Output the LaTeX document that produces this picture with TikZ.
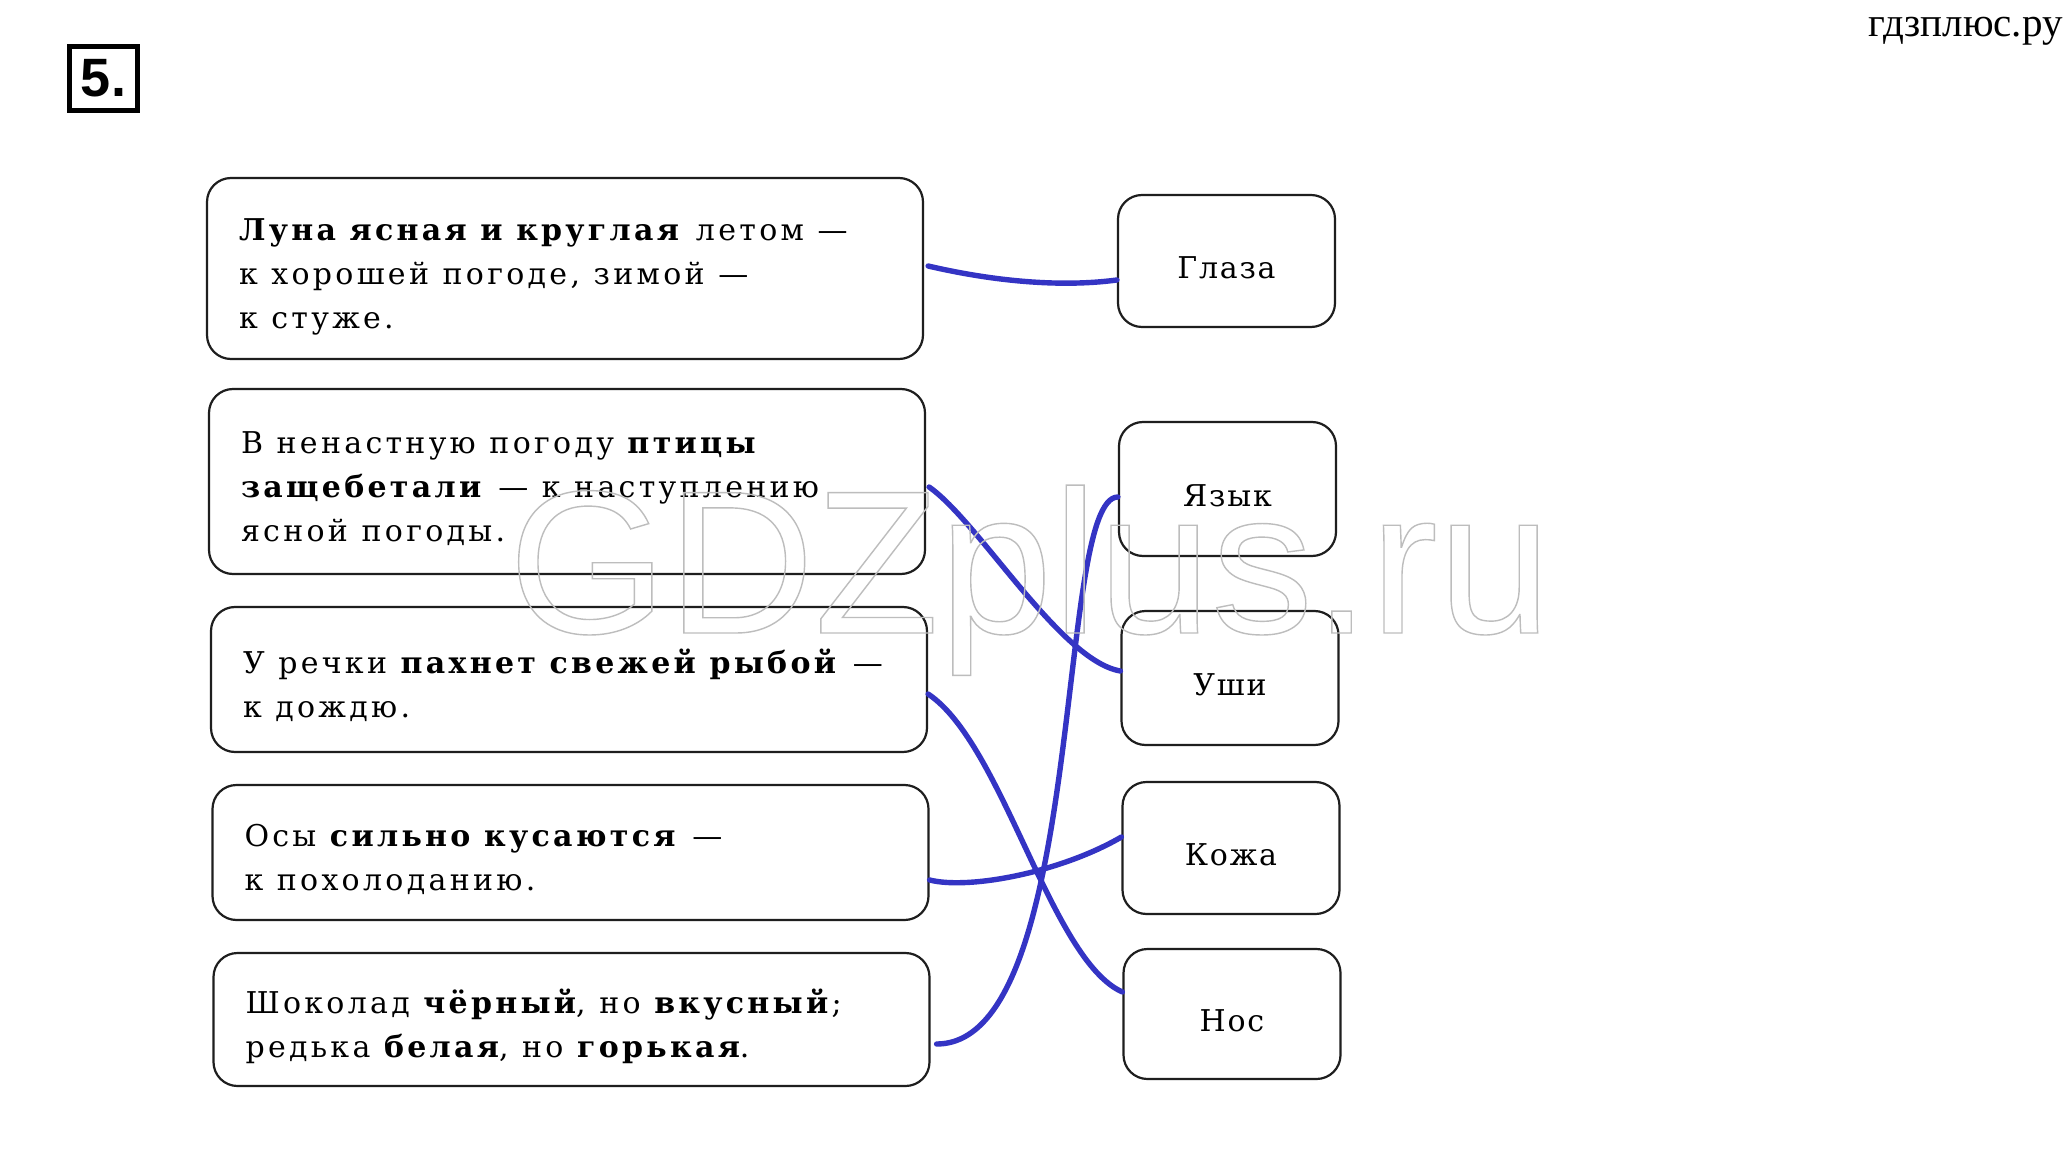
\documentclass[tikz,border=0pt]{standalone}
\usepackage{fontspec}
\setmainfont{Liberation Serif}
\newfontfamily\bookfont{DejaVu Serif}[LetterSpace=11]
\newfontfamily\rfont{DejaVu Serif}[LetterSpace=6]
\newfontfamily\wmsans{Liberation Sans}
\newfontfamily\numfont{Liberation Sans}
\newcommand\outlinetext[1]{\special{pdf:literal direct 1 Tr 0.7 w 0.74 0.74 0.74 RG}#1\special{pdf:literal direct 0 Tr}}
\newcommand\firstl{\rule{0pt}{24pt}}
\newcommand\lastl{\rule[-8pt]{0pt}{8pt}}
\newcommand\rl[1]{\raisebox{0pt}[17.3pt][0pt]{#1}}
\newcommand\w{\hskip1.8pt\relax\space}
\definecolor{penblue}{RGB}{52,52,196}
\definecolor{boxline}{RGB}{30,30,30}
\begin{document}
\begin{tikzpicture}[x=0.5pt,y=-0.5pt,
  lbox/.style={draw=boxline, line width=1.1pt, rounded corners=12pt, text width=326pt, inner xsep=16pt, inner ysep=0pt, align=left, font={\bookfont\fontsize{15}{22}\selectfont}},
  rbox/.style={draw=boxline, line width=1.1pt, rounded corners=12pt, minimum width=108.5pt, minimum height=66pt, inner sep=0pt, font={\rfont\fontsize{15}{22}\selectfont}},
  conn/.style={draw=penblue, line width=2.7pt, line cap=round, line join=round}]
\useasboundingbox (0,0) rectangle (2070,1149);
\fill[white] (0,0) rectangle (2070,1149);

\node[draw=black, line width=2.5pt, minimum width=34pt, minimum height=32pt, inner sep=0pt, font={\numfont\bfseries\fontsize{27}{27}\selectfont}] (num) at (103.5,78.5) {5.};
\node[anchor=base east, inner sep=0pt, font={\fontsize{20.5}{24}\selectfont}] (site) at (2063,37) {гдзплюс.ру};

\node[lbox, minimum height=90.5pt] (b1) at (565,268.5) {\firstl\mbox{\textbf{Луна\w ясная\w и\w круглая}\w летом\w —}\\\mbox{к\w хорошей\w погоде,\w зимой\w —}\\\mbox{к\w стуже.}\lastl};
\node[lbox, minimum height=92.5pt] (b2) at (567,481.5) {\firstl\mbox{В\w ненастную\w погоду\w \textbf{птицы}}\\\mbox{\textbf{защебетали}\w —\w к\w наступлению}\\\mbox{ясной\w погоды.}\lastl};
\node[lbox, minimum height=72.5pt] (b3) at (569,679.5) {\firstl\mbox{У\w речки\w \textbf{пахнет\w свежей\w рыбой}\w —}\\\mbox{к\w дождю.}\lastl};
\node[lbox, minimum height=67.5pt] (b4) at (570.5,852.5) {\firstl\mbox{Осы\w \textbf{сильно\w кусаются}\w —}\\\mbox{к\w похолоданию.}\lastl};
\node[lbox, minimum height=66.5pt] (b5) at (571.5,1019.5) {\firstl\mbox{Шоколад\w \textbf{чёрный},\w но\w \textbf{вкусный};}\\\mbox{редька\w \textbf{белая},\w но\w \textbf{горькая}.}\lastl};

\node[rbox] (r1) at (1226.5,261) {\rl{Глаза}};
\node[rbox, minimum height=67pt] (r2) at (1227.5,489) {\rl{Язык}};
\node[rbox, minimum height=67pt] (r3) at (1230,678) {\rl{Уши}};
\node[rbox] (r4) at (1231,848) {\rl{Кожа}};
\node[rbox, minimum height=65pt] (r5) at (1232,1014) {\rl{Нос}};

\draw[conn] ([xshift=2pt,yshift=1.25pt]b1.east) .. controls +(60,14) and +(-60,8) .. ([yshift=-9.5pt]r1.west);
\draw[conn] ([xshift=1.5pt,yshift=-2.75pt]b2.east) .. controls +(50,35) and +(-60,-10) .. ([yshift=3.5pt]r3.west);
\draw[conn] ([yshift=-7.25pt]b3.east) .. controls +(75,50) and +(-72,-32) .. ([yshift=11pt]r5.west);
\draw[conn] ([yshift=-13.75pt]b4.east) .. controls +(40,10) and +(-60,35) .. ([yshift=5.5pt]r4.west);
\draw[conn] ([xshift=3pt,yshift=-12.25pt]b5.east) .. controls +(150,0) and +(-63,0) .. ([yshift=-4pt]r2.west);

\node[anchor=base west, inner sep=0pt, font={\wmsans\fontsize{102}{102}\selectfont}] (wm) at (508,633) {\outlinetext{GDZplus.ru}};
\end{tikzpicture}
\end{document}
